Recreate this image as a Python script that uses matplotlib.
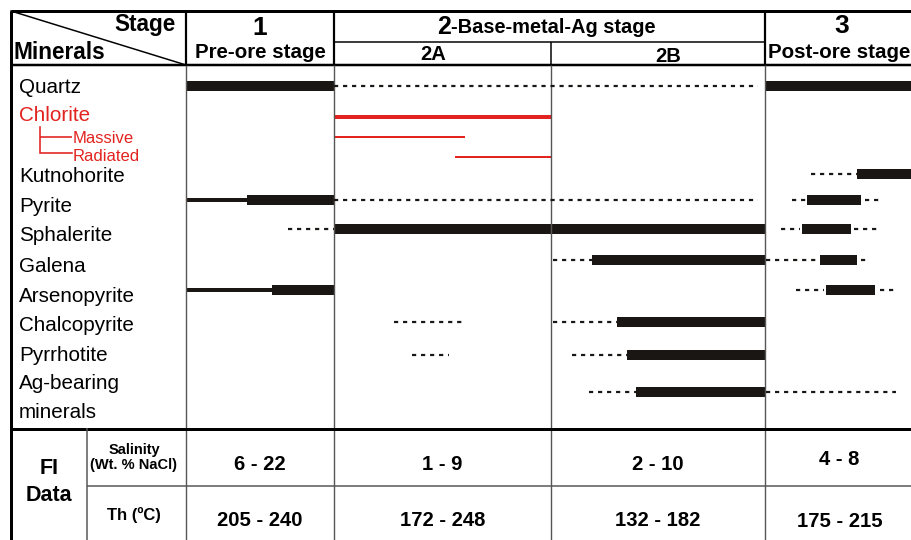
import matplotlib.pyplot as plt

plt.rcParams['font.family'] = ['Liberation Sans', 'DejaVu Sans']

# Stage columns on the relative time axis (left edge of stage 1 ... right edge of stage 3)
stage_edges = [186, 334, 551, 765, 914]
stage_numbers = ['1', '2', '3']
stage_names = ['Pre-ore stage', '-Base-metal-Ag stage', 'Post-ore stage']
substages = ['2A', '2B']

minerals = ['Quartz', 'Chlorite', 'Massive', 'Radiated', 'Kutnohorite', 'Pyrite',
            'Sphalerite', 'Galena', 'Arsenopyrite', 'Chalcopyrite', 'Pyrrhotite',
            'Ag-bearing\nminerals']

# (start, end, abundance)
quartz = [(186, 334, 'major'), (334, 758, 'trace'), (766, 914, 'major')]
chlorite = [(334, 551, 'minor')]
massive = [(334, 465, 'minor')]
radiated = [(455, 551, 'minor')]
kutnohorite = [(811, 857, 'trace'), (857, 914, 'major')]
pyrite = [(186, 247, 'minor'), (247, 334, 'major'), (334, 758, 'trace'),
          (792, 806, 'trace'), (807, 861, 'major'), (865, 880, 'trace')]
sphalerite = [(288, 334, 'trace'), (334, 765, 'major'), (781, 800, 'trace'),
              (802, 851, 'major'), (854, 880, 'trace')]
galena = [(553, 592, 'trace'), (592, 765, 'major'), (766, 818, 'trace'),
          (820, 857, 'major'), (861, 866, 'trace')]
arsenopyrite = [(186, 272, 'minor'), (272, 334, 'major'), (796, 824, 'trace'),
                (826, 875, 'major'), (880, 895, 'trace')]
chalcopyrite = [(394, 462, 'trace'), (553, 617, 'trace'), (617, 765, 'major')]
pyrrhotite = [(412, 449, 'trace'), (572, 627, 'trace'), (627, 765, 'major')]
ag_minerals = [(589, 636, 'trace'), (636, 765, 'major'), (766, 896, 'trace')]

intervals = [quartz, chlorite, massive, radiated, kutnohorite, pyrite, sphalerite,
             galena, arsenopyrite, chalcopyrite, pyrrhotite, ag_minerals]

# Fluid inclusion data per column (stage 1, 2A, 2B, stage 3)
salinity = ['6 - 22', '1 - 9', '2 - 10', '4 - 8']
homog_temp = ['205 - 240', '172 - 248', '132 - 182', '175 - 215']

# layout (pixel-like units, y grows downwards)
row_y = [86, 117, 137, 157, 174, 200, 229, 260, 290, 322, 355, 392]
label_base = [93, 121, 143, 161, 182, 212, 241, 272, 302, 331, 361, 389]
ink = '#1a1614'
red = '#e2231f'
grid = '#555555'
px = 0.72  # points per pixel at dpi 100

fig = plt.figure(figsize=(9.12, 5.4), dpi=100)
ax = fig.add_axes([0, 0, 1, 1])
ax.set_xlim(0, 912)
ax.set_ylim(540, 0)
ax.axis('off')

# table frame
ax.hlines(11, 11, 914, color='black', lw=3 * px)
ax.vlines(11, 11, 540, color='black', lw=3 * px)
ax.hlines(65, 11, 914, color='black', lw=2.5 * px)
ax.hlines(42, stage_edges[1], stage_edges[3], color='black', lw=1.5 * px)
ax.vlines([stage_edges[0], stage_edges[1], stage_edges[3]], 11, 65, color='black', lw=2.2 * px)
ax.vlines(stage_edges[2], 42, 65, color='black', lw=1.5 * px)
ax.vlines(stage_edges[:4], 65, 540, color=grid, lw=1.4 * px)
ax.hlines(428.5, 11, 914, color='black', lw=3 * px)
ax.vlines(87, 428, 540, color=grid, lw=1.5 * px)
ax.hlines(486, 87, 914, color=grid, lw=1.5 * px)
ax.plot([11, 186], [11, 65], color='black', lw=1.5 * px)

# header text
hdr = dict(fontweight='bold', color='black')
ax.text(176, 31, 'Stage', ha='right', va='baseline', fontsize=16.3, **hdr)
ax.text(14, 59, 'Minerals', ha='left', va='baseline', fontsize=16.3, **hdr)
c1 = (stage_edges[0] + stage_edges[1]) / 2
c3 = (stage_edges[3] + stage_edges[4]) / 2
ax.text(c1, 35, stage_numbers[0], ha='center', va='baseline', fontsize=19, **hdr)
ax.text(c1, 58, stage_names[0], ha='center', va='baseline', fontsize=14.8, **hdr)
ax.text(451, 34, stage_numbers[1], ha='right', va='baseline', fontsize=18, **hdr)
ax.text(451, 33, stage_names[1], ha='left', va='baseline', fontsize=14.4, **hdr)
ax.text(433, 60, substages[0], ha='center', va='baseline', fontsize=14.5, **hdr)
ax.text(668, 62, substages[1], ha='center', va='baseline', fontsize=14.5, **hdr)
ax.text(c3 + 2, 33, stage_numbers[2], ha='center', va='baseline', fontsize=19, **hdr)
ax.text(c3, 58, stage_names[2], ha='center', va='baseline', fontsize=14.8, **hdr)

# mineral labels
for i, (name, yb) in enumerate(zip(minerals, label_base)):
    if name in ('Massive', 'Radiated'):
        ax.text(73, yb, name, ha='left', va='baseline', fontsize=12, color=red)
    elif name == 'Chlorite':
        ax.text(19, yb, name, ha='left', va='baseline', fontsize=14.9, color=red)
    elif '\n' in name:
        first, second = name.split('\n')
        ax.text(19, yb, first, ha='left', va='baseline', fontsize=14.9, color='black')
        ax.text(19, yb + 29, second, ha='left', va='baseline', fontsize=14.9, color='black')
    else:
        ax.text(19, yb, name, ha='left', va='baseline', fontsize=14.9, color='black')

# chlorite bracket
ax.plot([40, 40, 72], [127, 153, 153], color=red, lw=1.6 * px, solid_joinstyle='miter')
ax.hlines(136.5, 40, 72, color=red, lw=1.6 * px)

# duration bars
for name, y, segs in zip(minerals, row_y, intervals):
    is_chl = name in ('Chlorite', 'Massive', 'Radiated')
    col = red if is_chl else ink
    for start, end, kind in segs:
        if kind == 'major':
            ax.barh(y, end - start, left=start, height=10, color=col, lw=0)
        elif kind == 'minor':
            h = 2 if name in ('Massive', 'Radiated') else 3.5
            ax.barh(y, end - start, left=start, height=h, color=col, lw=0)
        else:
            ax.hlines(y, start, end, color=col, lw=2.2 * px,
                      linestyles=[(0, (1.9, 2.2))])

# fluid inclusion data block
ax.text(49, 474, 'FI', ha='center', va='baseline', fontsize=15.5, **hdr)
ax.text(49, 501, 'Data', ha='center', va='baseline', fontsize=15.5, **hdr)
ax.text(134, 454, 'Salinity', ha='center', va='baseline', fontsize=10.5, **hdr)
ax.text(134, 469, '(Wt. % NaCl)', ha='center', va='baseline', fontsize=10.5, **hdr)
ax.text(134, 520, 'Th (ºC)', ha='center', va='baseline', fontsize=12, **hdr)

centers = [(a + b) / 2 for a, b in zip(stage_edges[:-1], stage_edges[1:])]
sal_base = [470, 470, 470, 465]
th_base = [526, 526, 526, 527]
for cx, s, t, sb, tb in zip(centers, salinity, homog_temp, sal_base, th_base):
    ax.text(cx, sb, s, ha='center', va='baseline', fontsize=14.6, **hdr)
    ax.text(cx, tb, t, ha='center', va='baseline', fontsize=14.6, **hdr)

fig.savefig('out.png', dpi=100)
